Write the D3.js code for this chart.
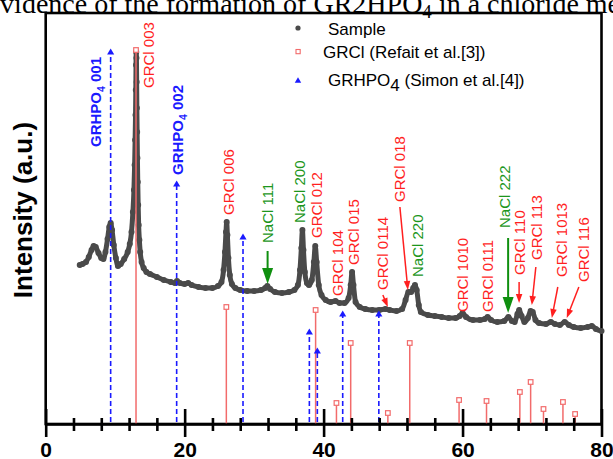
<!DOCTYPE html>
<html>
<head>
<meta charset="utf-8">
<script src="https://cdn.jsdelivr.net/npm/d3@7"></script>
<style>
  html, body { margin: 0; padding: 0; background: #fff; }
  svg { display: block; }
</style>
</head>
<body>
<svg id="chart" width="613" height="459"></svg>
<script>
// ---- axis ticks (2θ, degrees) ----
const xTickValues = d3.range(0, 81, 4);
const xTickLabels = [0, 20, 40, 60, 80];

// ---- measured pattern: 2θ (deg) and intensity (a.u.) ----
const sampleTheta = [
  4.9, 5.3, 5.8, 6.2, 6.6, 6.9, 7.2, 7.6, 8.0, 8.3, 8.6, 8.9, 9.15, 9.35, 9.55, 9.8,
  10.1, 10.4, 10.8, 11.3, 11.8, 12.1, 12.35, 12.55, 12.7, 12.8, 12.87, 12.93, 12.97,
  13.0, 13.03, 13.06, 13.09, 13.12, 13.16, 13.2, 13.25, 13.31, 13.38, 13.48, 13.6,
  13.8, 14.1, 14.5, 15.0, 16.0, 17.0, 18.0, 18.6, 18.9, 19.3, 20.0, 20.5, 21.0, 22.0,
  23.0, 24.0, 24.8, 25.3, 25.6, 25.8, 25.95, 26.05, 26.15, 26.3, 26.5, 26.8, 27.3,
  28.0, 29.0, 30.0, 31.0, 31.6, 31.9, 32.3, 33.0, 34.0, 35.0, 35.8, 36.3, 36.6, 36.8,
  36.95, 37.1, 37.3, 37.6, 37.9, 38.3, 38.6, 38.8, 39.0, 39.3, 39.7, 40.3, 41.0, 41.7,
  42.3, 43.0, 43.6, 43.9, 44.1, 44.3, 44.6, 45.2, 46.0, 47.0, 48.0, 48.9, 49.5, 50.5,
  51.3, 51.8, 52.2, 52.6, 52.9, 53.15, 53.4, 53.7, 54.0, 55.0, 56.0, 57.0, 58.0, 59.0,
  59.6, 60.0, 60.5, 61.5, 62.5, 63.2, 63.6, 64.1, 65.0, 66.0, 66.6, 67.1, 67.5, 67.9,
  68.15, 68.5, 68.9, 69.4, 69.8, 70.1, 70.5, 71.0, 72.0, 72.7, 73.3, 74.0, 74.7, 75.3,
  76.0, 77.0, 78.0, 78.6, 79.2, 80.0
];
const sampleCounts = [
  159, 160, 162, 167, 174, 178, 177, 171, 166, 165, 172, 185, 197, 201, 194, 179,
  166, 158, 160, 165, 172, 180, 192, 212, 234, 259, 284, 309, 334,
  359, 372, 366, 342, 316, 292, 266, 242, 219, 199, 184, 172,
  162, 156, 152, 150, 147, 144, 142, 141, 143, 141, 140, 141, 139, 137,
  136, 136, 138, 142, 154, 172, 192, 202, 189, 166, 149, 140, 136,
  134, 133, 133, 134, 136, 138, 135, 132, 131, 132, 134, 139, 154, 176,
  194, 174, 152, 141, 139, 144, 162, 178, 162, 139, 129, 124, 122, 123,
  121, 121, 126, 139, 152, 139, 122, 117, 115, 114, 114, 115, 114, 113,
  115, 124, 132, 132, 136, 139, 134, 119, 112, 109, 108, 107, 106, 106,
  108, 111, 107, 104, 104, 105, 107, 104, 102, 103, 107, 103, 102, 110,
  114, 108, 102, 106, 113, 112, 104, 101, 100, 102, 100, 99, 102, 99,
  97, 96, 97, 98, 95, 93
];

// ---- GRCl reference pattern (Refait et al.) ----
const grclTheta = [13.0, 26.0, 38.85, 41.85, 43.9, 49.25, 52.4, 59.5, 63.45, 68.25, 69.8, 71.65, 74.45, 76.2];
const grclIntensity = [374, 117, 114, 21, 81, 11, 81, 24, 23, 32, 42, 15, 22, 10];

// ---- GRHPO4 reference pattern (Simon et al.) ----
const grhpoTheta = [9.35, 18.85, 28.4, 37.95, 39.1, 42.75, 47.95];
const grhpoIntensity = [374, 242, 189, 94, 75, 112, 112];

// ---- peak labels: text, centre 2θ, intensity level of the label's lower end, phase ----
const labelText = [
  "GRHPO4 001", "GRCl 003", "GRHPO4 002", "GRCl 006", "NaCl 111", "NaCl 200", "GRCl 012",
  "GRCl 104", "GRCl 015", "GRCl 0114", "GRCl 018", "NaCl 220", "GRCl 1010", "GRCl 0111",
  "NaCl 222", "GRCl 110", "GRCl 113", "GRCl 1013", "GRCl 116"
];
const labelTheta = [
  7.24, 14.86, 19.03, 26.37, 31.98, 36.6, 39.04,
  42.06, 44.36, 48.53, 50.98, 53.57, 60.04, 63.64,
  66.09, 68.25, 70.69, 74.29, 77.45
];
const labelBase = [
  277, 336, 249, 209, 181, 201, 186,
  128, 159, 134, 222, 147, 112, 112,
  196, 149, 164, 147, 142
];
const labelPhase = [
  "grhpo", "grcl", "grhpo", "grcl", "nacl", "nacl", "grcl",
  "grcl", "grcl", "grcl", "grcl", "nacl", "grcl", "grcl",
  "nacl", "grcl", "grcl", "grcl", "grcl"
];

// ---- pointer arrows: phase, start (2θ, I) and end (2θ, I) ----
const arrowPhase  = ["nacl", "nacl", "grcl", "grcl", "grcl", "grcl", "grcl", "grcl"];
const arrowTheta0 = [31.94, 66.56, 50.98, 48.53, 68.14, 70.55, 73.71, 76.74];
const arrowI0     = [173, 186, 217, 129, 142, 157, 137, 137];
const arrowTheta1 = [31.94, 66.56, 52.13, 49.25, 68.14, 69.97, 72.85, 75.0];
const arrowI1     = [140, 111, 134, 117, 121, 119, 106, 106];

// ---- legend entries ----
const legendLabels = ["Sample", "GRCl (Refait et al.[3])", "GRHPO4 (Simon et al.[4])"];

// ---------------------------------------------------------------
const colors = {
  sample: "#4a4a4a",
  grclStick: "#f26b6b",
  grcl: "#ff1f1f",
  nacl: "#1c961c",
  grhpo: "#1a1aff"
};
const sans = "'Liberation Sans', Arial, sans-serif";

const svg = d3.select("#chart");
const x = d3.scaleLinear().domain([0, 80]).range([45.7, 601.5]);
const y = d3.scaleLinear().domain([0, 411]).range([424, 13]);

// running heading of the page above the figure
const head = svg.append("text")
  .attr("x", -17).attr("y", 12.5)
  .attr("font-family", "'Liberation Serif', 'Times New Roman', serif")
  .attr("font-size", 28).attr("fill", "#000");
head.append("tspan").text("Evidence of the formation of GR2HPO");
head.append("tspan").attr("font-size", 19).attr("dy", 5).text("4");
head.append("tspan").attr("dy", -5).text(" in a chloride medium");

// plot frame
svg.append("rect")
  .attr("x", x(0)).attr("y", y(411))
  .attr("width", x(80) - x(0)).attr("height", y(0) - y(411))
  .attr("fill", "none").attr("stroke", "#000").attr("stroke-width", 2.6);

// measured pattern
const samplePts = sampleTheta.map((t, i) => [t, sampleCounts[i]]);
svg.append("path")
  .datum(samplePts)
  .attr("fill", "none")
  .attr("stroke", colors.sample)
  .attr("stroke-width", 5)
  .attr("stroke-linejoin", "round")
  .attr("stroke-linecap", "round")
  .attr("d", d3.line().x(d => x(d[0])).y(d => y(d[1])).curve(d3.curveMonotoneX));
svg.append("g").selectAll("circle")
  .data(samplePts)
  .join("circle")
  .attr("cx", d => x(d[0])).attr("cy", d => y(d[1]))
  .attr("r", 3).attr("fill", colors.sample);

// GRCl sticks with open squares
const grcl = svg.append("g");
grclTheta.forEach((t, i) => {
  grcl.append("line")
    .attr("x1", x(t)).attr("x2", x(t))
    .attr("y1", y(0)).attr("y2", y(grclIntensity[i]) + 2.3)
    .attr("stroke", colors.grclStick).attr("stroke-width", 1.5);
  grcl.append("rect")
    .attr("x", x(t) - 2.3).attr("y", y(grclIntensity[i]) - 2.3)
    .attr("width", 4.6).attr("height", 4.6)
    .attr("fill", "#fff").attr("stroke", colors.grclStick).attr("stroke-width", 1.2);
});

// GRHPO4 dashed sticks with filled triangles
const tri = d3.symbol().type(d3.symbolTriangle).size(22);
const grhpo = svg.append("g");
grhpoTheta.forEach((t, i) => {
  grhpo.append("line")
    .attr("x1", x(t)).attr("x2", x(t))
    .attr("y1", y(0) - 2).attr("y2", y(grhpoIntensity[i]) + 3)
    .attr("stroke", colors.grhpo).attr("stroke-width", 1.6)
    .attr("stroke-dasharray", "5,3");
  grhpo.append("path")
    .attr("d", tri())
    .attr("transform", `translate(${x(t)},${y(grhpoIntensity[i]) + 2.5})`)
    .attr("fill", colors.grhpo);
});

// bottom axis with ticks crossing the axis line
const axis = d3.axisBottom(x)
  .tickValues(xTickValues)
  .tickSizeInner(0).tickSizeOuter(0)
  .tickFormat(d => xTickLabels.includes(d) ? d : "");
const ax = svg.append("g")
  .attr("transform", `translate(0,${y(0)})`)
  .call(axis);
ax.select(".domain").attr("stroke", "#000").attr("stroke-width", 2.6);
ax.selectAll(".tick line")
  .attr("stroke", "#000").attr("stroke-width", 2.6)
  .attr("y1", d => xTickLabels.includes(d) ? -15 : -6)
  .attr("y2", d => xTickLabels.includes(d) ? 13 : 7);
ax.selectAll(".tick text")
  .attr("y", 33).attr("dy", 0)
  .attr("font-family", sans).attr("font-size", 21).attr("font-weight", "bold")
  .attr("fill", "#000");

// peak labels (vertical)
const labels = svg.append("g");
labelText.forEach((s, i) => {
  const phase = labelPhase[i];
  const t = labels.append("text")
    .attr("transform", `translate(${x(labelTheta[i])},${y(labelBase[i])}) rotate(-90)`)
    .attr("dy", "0.36em")
    .attr("font-family", sans)
    .attr("font-size", 15)
    .attr("font-weight", phase === "grhpo" ? "bold" : "normal")
    .attr("fill", colors[phase]);
  if (phase === "grhpo") {
    const parts = s.split("4");
    t.append("tspan").text(parts[0]);
    t.append("tspan").attr("font-size", 10.5).attr("dy", 4).text("4");
    t.append("tspan").attr("dy", -4).text(parts.slice(1).join("4"));
  } else {
    t.text(s);
  }
});

// pointer arrows
const arrows = svg.append("g");
arrowPhase.forEach((phase, i) => {
  const x0 = x(arrowTheta0[i]), y0 = y(arrowI0[i]);
  const x1 = x(arrowTheta1[i]), y1 = y(arrowI1[i]);
  const big = phase === "nacl";
  const hl = big ? 16 : 9, hw = big ? 11 : 6.5;
  const col = big ? "#0f8f0f" : colors.grcl;
  const dx = x1 - x0, dy = y1 - y0, L = Math.hypot(dx, dy);
  const ux = dx / L, uy = dy / L;
  const bx = x1 - ux * hl, by = y1 - uy * hl;
  arrows.append("line")
    .attr("x1", x0).attr("y1", y0).attr("x2", bx + ux).attr("y2", by + uy)
    .attr("stroke", col).attr("stroke-width", big ? 2 : 1.5);
  arrows.append("path")
    .attr("d", `M${x1},${y1}L${bx - uy * hw / 2},${by + ux * hw / 2}L${bx + uy * hw / 2},${by - ux * hw / 2}Z`)
    .attr("fill", col);
});

// legend
const lg = svg.append("g").attr("font-family", sans).attr("font-size", 17).attr("fill", "#000");
lg.append("circle").attr("cx", 298).attr("cy", 28).attr("r", 2.6).attr("fill", colors.sample);
lg.append("text").attr("x", 328).attr("y", 35).text(legendLabels[0]);
lg.append("rect").attr("x", 296).attr("y", 49.5).attr("width", 4.2).attr("height", 4.2)
  .attr("fill", "#fff").attr("stroke", colors.grclStick).attr("stroke-width", 1.1);
lg.append("text").attr("x", 323).attr("y", 58).text(legendLabels[1]);
lg.append("path").attr("d", d3.symbol().type(d3.symbolTriangle).size(18)())
  .attr("transform", "translate(298,81)").attr("fill", colors.grhpo);
const lt = lg.append("text").attr("x", 328).attr("y", 86);
const lp = legendLabels[2].split("4");
lt.append("tspan").text(lp[0]);
lt.append("tspan").attr("dy", 5).text("4");
lt.append("tspan").attr("dy", -5).text(lp.slice(1).join("4"));

// y-axis title
svg.append("text")
  .attr("transform", "translate(32,210) rotate(-90)")
  .attr("text-anchor", "middle")
  .attr("font-family", sans).attr("font-size", 26).attr("font-weight", "bold")
  .attr("fill", "#000")
  .text("Intensity (a.u.)");
</script>
</body>
</html>
